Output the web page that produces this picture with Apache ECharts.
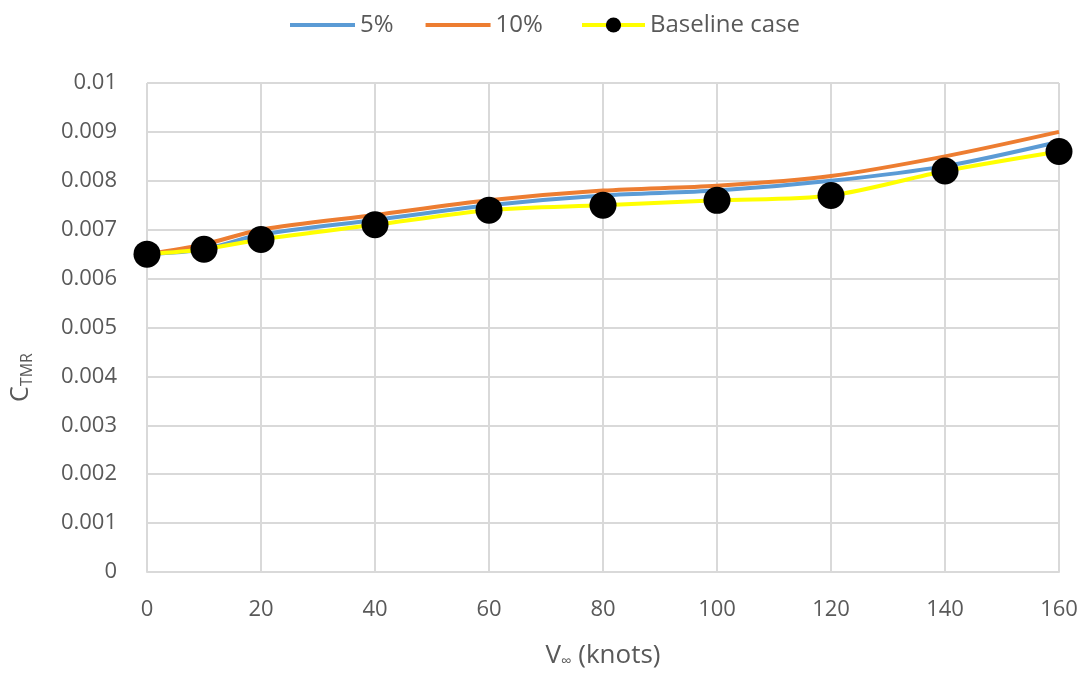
<!DOCTYPE html>
<html>
<head>
<meta charset="utf-8">
<style>
  html, body { margin: 0; padding: 0; background: #fff; }
  #chart { width: 1090px; height: 679px; }
</style>
<script src="https://cdn.jsdelivr.net/npm/echarts@6/dist/echarts.min.js"></script>
</head>
<body>
<div id="chart"></div>
<script>
// Free-stream speed (knots) at which each case was evaluated
const speeds = [0, 10, 20, 40, 60, 80, 100, 120, 140, 160];
// Torque coefficient C_TMR for each case
const ctmr5 = [0.0065, 0.0066, 0.0069, 0.0072, 0.0075, 0.0077, 0.0078, 0.0080, 0.0083, 0.0088];
const ctmr10 = [0.0065, 0.0067, 0.0070, 0.0073, 0.0076, 0.0078, 0.0079, 0.0081, 0.0085, 0.0090];
const ctmrBase = [0.0065, 0.0066, 0.0068, 0.0071, 0.0074, 0.0075, 0.0076, 0.0077, 0.0082, 0.0086];
const seriesNames = ['5%', '10%', 'Baseline case'];

const FONT = '"Open Sans", "Liberation Sans", sans-serif';
const TEXT = '#595959';
const GRID = '#d9d9d9';
const BLUE = '#5b9bd5';
const ORANGE = '#ed7d31';
const YELLOW = '#ffff00';

const pairs = (ys) => speeds.map((x, i) => [x, ys[i]]);
const legendText = { fontSize: 24, color: TEXT, fontFamily: FONT };

const chart = echarts.init(document.getElementById('chart'), null, { renderer: 'canvas' });
chart.setOption({
  animation: false,
  textStyle: { fontFamily: FONT },
  legend: [
    {
      // plain line keys for the two percentage cases
      data: [seriesNames[0], seriesNames[1]],
      left: 285, top: 8,
      icon: 'rect',
      itemWidth: 65, itemHeight: 4,
      itemGap: 32, itemTextGap: 6,
      textStyle: legendText
    },
    {
      // line-with-marker key for the baseline
      data: [seriesNames[2]],
      left: 575, top: 8,
      itemWidth: 63, itemHeight: 19,
      itemTextGap: 9,
      lineStyle: { width: 4 },
      textStyle: legendText
    }
  ],
  grid: { left: 147, right: 31, top: 83, bottom: 107 },
  xAxis: {
    type: 'value',
    min: 0, max: 160, interval: 20,
    name: 'V{sub|∞} (knots)',
    nameLocation: 'middle',
    nameGap: 70,
    nameTextStyle: {
      fontSize: 26, color: TEXT, fontFamily: FONT,
      rich: { sub: { fontSize: 15, color: TEXT, fontFamily: FONT, padding: [12, 0, 0, 0] } }
    },
    axisLine: { show: true, lineStyle: { color: GRID, width: 2 } },
    axisTick: { show: false },
    axisLabel: { fontSize: 22, color: TEXT, margin: 27, fontFamily: FONT },
    splitLine: { show: true, lineStyle: { color: GRID, width: 2 } }
  },
  yAxis: {
    type: 'value',
    min: 0, max: 0.01, interval: 0.001,
    name: 'C{sub|TMR}',
    nameLocation: 'middle',
    nameRotate: 90,
    nameGap: 112,
    nameTextStyle: {
      fontSize: 25, color: TEXT, fontFamily: FONT,
      padding: [0, 100, 0, 0],
      rich: { sub: { fontSize: 16, color: TEXT, fontFamily: FONT, padding: [12, 0, 0, 0] } }
    },
    axisLine: { show: false },
    axisTick: { show: false },
    axisLabel: {
      fontSize: 22, color: TEXT, margin: 30, fontFamily: FONT,
      formatter: (v) => String(parseFloat(v.toFixed(3)))
    },
    splitLine: { show: true, lineStyle: { color: GRID, width: 2 } }
  },
  series: [
    {
      name: seriesNames[0], type: 'line', data: pairs(ctmr5),
      smooth: 0.3, showSymbol: false,
      lineStyle: { color: BLUE, width: 4 }, itemStyle: { color: BLUE }, z: 3
    },
    {
      name: seriesNames[1], type: 'line', data: pairs(ctmr10),
      smooth: 0.3, showSymbol: false,
      lineStyle: { color: ORANGE, width: 4 }, itemStyle: { color: ORANGE }, z: 2
    },
    {
      name: seriesNames[2], type: 'line', data: pairs(ctmrBase),
      smooth: 0.3, symbol: 'circle', symbolSize: 27, showSymbol: true,
      lineStyle: { color: YELLOW, width: 4 },
      itemStyle: { color: '#000000', borderWidth: 0 }, z: 4
    }
  ]
});
</script>
</body>
</html>
